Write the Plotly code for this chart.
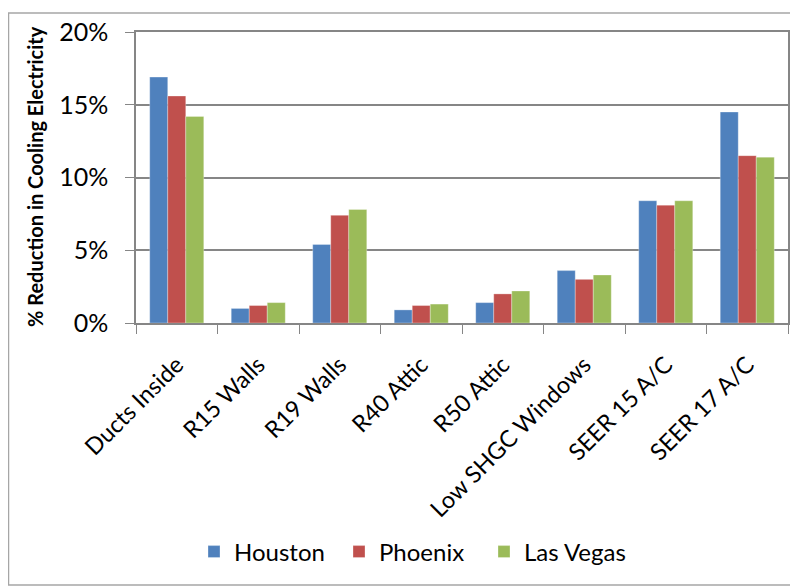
import plotly.graph_objects as go

categories = ["Ducts Inside", "R15 Walls", "R19 Walls", "R40 Attic", "R50 Attic",
              "Low SHGC Windows", "SEER 15 A/C", "SEER 17 A/C"]
houston = [16.9, 1.0, 5.4, 0.9, 1.4, 3.6, 8.4, 14.5]
phoenix = [15.6, 1.2, 7.4, 1.2, 2.0, 3.0, 8.1, 11.5]
las_vegas = [14.2, 1.4, 7.8, 1.3, 2.2, 3.3, 8.4, 11.4]
y_ticks = [0, 5, 10, 15, 20]
y_tick_labels = ["0%", "5%", "10%", "15%", "20%"]

series = [("Houston", houston, "#4F81BD"),
          ("Phoenix", phoenix, "#C0504D"),
          ("Las Vegas", las_vegas, "#9BBB59")]

FONT = "Lato, 'Open Sans', sans-serif"
OFF = 8  # browser body margin
W, H = 798 - OFF, 586 - OFF
L, R, T, B = 136 - OFF, 10, 32 - OFF, 586 - 323
PW, PH = W - L - R, H - T - B

def px_x(x):
    return (x - OFF - L) / PW

def px_y(y):
    return (H - B - (y - OFF)) / PH

fig = go.Figure()
for name, vals, color in series:
    fig.add_trace(go.Bar(x=categories, y=vals, name=name,
                         marker=dict(color=color, line=dict(color="rgba(255,255,255,0.6)", width=0.5))))

fig.update_layout(
    width=W, height=H,
    margin=dict(l=L, r=R, t=T, b=B, autoexpand=False),
    paper_bgcolor="white", plot_bgcolor="white",
    barmode="group", bargap=0.337, bargroupgap=0,
    font=dict(family=FONT, size=22, color="black"),
    showlegend=True,
    legend=dict(orientation="h", x=px_x(194), xanchor="left", y=px_y(552), yanchor="middle",
                font=dict(size=24), traceorder="normal", entrywidth=100),
    shapes=[dict(type="rect", xref="paper", yref="paper",
                 x0=px_x(8.5), x1=px_x(840), y0=px_y(585), y1=px_y(13),
                 line=dict(color="#A6A6A6", width=1.5), fillcolor="rgba(0,0,0,0)",
                 layer="below")],
    annotations=[dict(text="<b>% Reduction in Cooling Electricity</b>", textangle=-90,
                      xref="paper", yref="paper", x=px_x(35), y=px_y(177),
                      xanchor="center", yanchor="middle", showarrow=False,
                      font=dict(size=20, family=FONT, color="black"))],
)
fig.update_xaxes(
    automargin=False,
    tickangle=-45, tickson="boundaries", ticks="outside", ticklen=9,
    tickcolor="#868686", showline=True, linecolor="#868686", linewidth=1.5,
    mirror=True, showgrid=False, tickfont=dict(size=23.5, family=FONT),
    ticklabelstandoff=17,
)
fig.update_yaxes(
    automargin=False,
    range=[0, 20], tickvals=y_ticks, ticktext=y_tick_labels,
    ticks="outside", ticklen=9, tickcolor="#868686",
    showline=True, linecolor="#868686", linewidth=1.5, mirror=True,
    showgrid=True, gridcolor="#868686", gridwidth=1.5,
    zeroline=False, tickfont=dict(size=25, family=FONT), ticklabelstandoff=12,
)
fig.write_html("out.html")
